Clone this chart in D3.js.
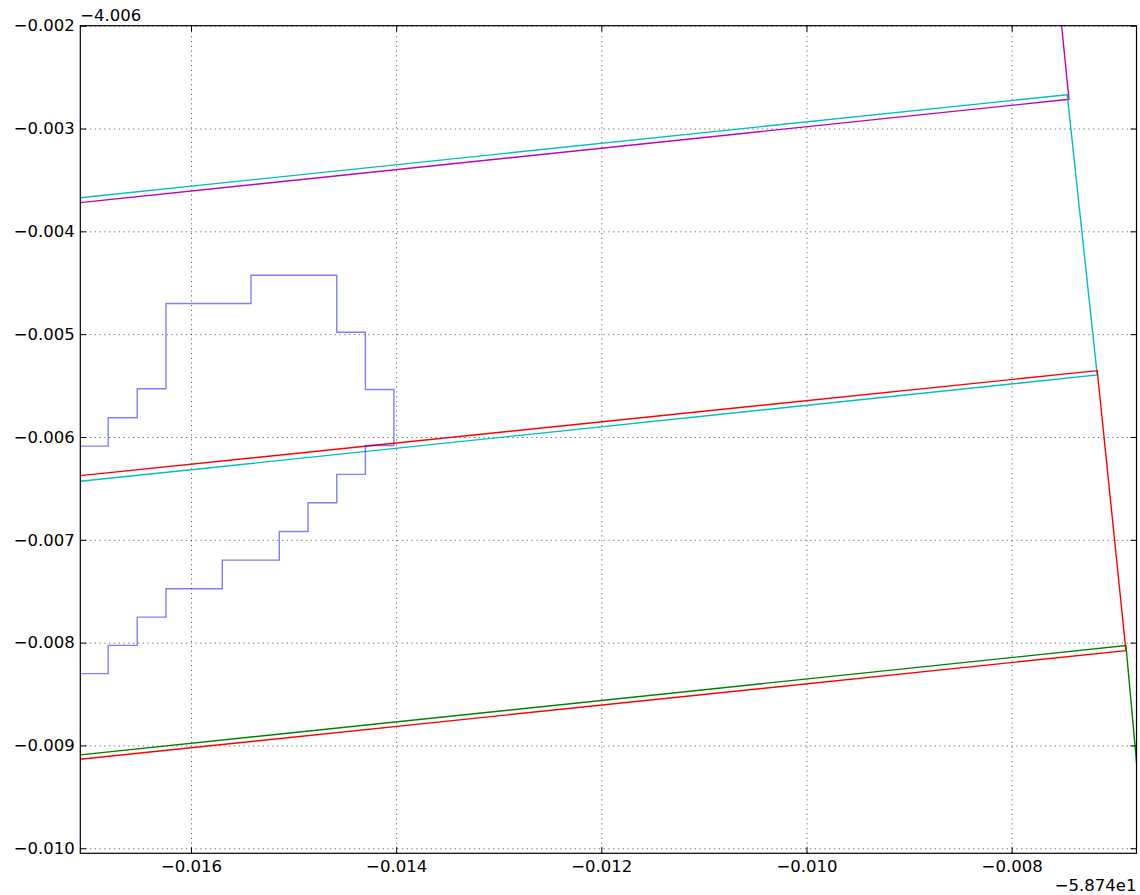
<!DOCTYPE html>
<html>
<head>
<meta charset="utf-8">
<script src="https://cdn.jsdelivr.net/npm/d3@7"></script>
<style>
body { margin: 0; background: #fff; }
svg { font-family: "DejaVu Sans", sans-serif; }
.grid line { stroke: #000; stroke-width: 0.8; stroke-dasharray: 1.2,3.6; opacity: 0.75; }
.grid path { display: none; }
.ticks path { display: none; }
.ticks line { stroke: #000; stroke-width: 1; }
.ticks text { font-family: "DejaVu Sans", sans-serif; font-size: 16.5px; fill: #000; }
</style>
</head>
<body>
<div id="chart"></div>
<script>
// tick values (offsets are shown separately, matplotlib style)
const xTicks = [-0.016, -0.014, -0.012, -0.010, -0.008];
const yTicks = [-0.002, -0.003, -0.004, -0.005, -0.006, -0.007, -0.008, -0.009, -0.010];
const xOffsetLabel = "\u22125.874e1";
const yOffsetLabel = "\u22124.006";

const xDomain = [-0.017079, -0.006783];
const yDomain = [-0.010049, -0.002];

// tile outlines, [x, y] corners
const magentaEdge = [[-0.007538, -0.00175], [-0.007441, -0.002716], [-0.017079, -0.003721]];
const cyanEdge = [[-0.017079, -0.003673], [-0.007458, -0.002671], [-0.007166, -0.005397], [-0.017079, -0.006431]];
const redEdge = [[-0.017079, -0.006376], [-0.007166, -0.005355], [-0.006886, -0.008078], [-0.017079, -0.009134]];
const greenEdge = [[-0.017079, -0.009092], [-0.006886, -0.008029], [-0.006681, -0.010279]];

// blue step outlines (steps after each x)
const stepUpperX = [-0.0172, -0.016807, -0.016524, -0.016244, -0.015415, -0.014579, -0.014300, -0.014022];
const stepUpperY = [-0.006089, -0.005813, -0.005531, -0.004702, -0.004427, -0.004981, -0.005538, -0.006083];
const stepLowerX = [-0.0172, -0.016807, -0.016524, -0.016244, -0.015695, -0.015139, -0.014859, -0.014579, -0.014300, -0.014022];
const stepLowerY = [-0.008302, -0.008027, -0.007752, -0.007476, -0.007198, -0.006919, -0.006640, -0.006364, -0.006083, -0.006083];

const margins = {left: 80.3, top: 25.7, right: 3.5, bottom: 41.7};
const dims = {width: 1140 - margins.left - margins.right, height: 895 - margins.top - margins.bottom};

const fmt = d => d3.format(".3f")(d).replace("-", "\u2212");

let svg = d3.select("#chart")
    .append("svg")
    .attr("width", 1140)
    .attr("height", 895);

let g = svg.append("g")
    .attr("transform", `translate(${margins.left},${margins.top})`);

let xScale = d3.scaleLinear().domain(xDomain).range([0, dims.width]);
let yScale = d3.scaleLinear().domain(yDomain).range([dims.height, 0]);

svg.append("defs").append("clipPath")
    .attr("id", "plotclip")
    .append("rect")
    .attr("width", dims.width)
    .attr("height", dims.height);

// grid
g.append("g")
    .attr("class", "grid")
    .attr("transform", `translate(0,${dims.height})`)
    .call(d3.axisBottom(xScale).tickValues(xTicks).tickSize(-dims.height).tickFormat(""));
g.append("g")
    .attr("class", "grid")
    .call(d3.axisLeft(yScale).tickValues(yTicks).tickSize(-dims.width).tickFormat(""));

// lines
let plot = g.append("g").attr("clip-path", "url(#plotclip)");

let line = d3.line()
    .x(d => xScale(d[0]))
    .y(d => yScale(d[1]));

let stepLine = d3.line()
    .x(d => xScale(d[0]))
    .y(d => yScale(d[1]))
    .curve(d3.curveStepAfter);

const series = [
    {pts: magentaEdge, color: "#bf00bf"},
    {pts: cyanEdge, color: "#00bfbf"},
    {pts: redEdge, color: "#ff0000"},
    {pts: greenEdge, color: "#008000"}
];

plot.selectAll("path.edge")
    .data(series)
    .enter()
    .append("path")
    .attr("class", "edge")
    .attr("d", d => line(d.pts))
    .attr("fill", "none")
    .attr("stroke", d => d.color)
    .attr("stroke-width", 1.4);

const steps = [
    stepUpperX.map((x, i) => [x, stepUpperY[i]]),
    stepLowerX.map((x, i) => [x, stepLowerY[i]])
];

plot.selectAll("path.step")
    .data(steps)
    .enter()
    .append("path")
    .attr("class", "step")
    .attr("d", d => stepLine(d))
    .attr("fill", "none")
    .attr("stroke", "#0000ff")
    .attr("stroke-opacity", 0.5)
    .attr("stroke-width", 1.4);

// ticks, pointing inward on all four sides
g.append("g")
    .attr("class", "ticks")
    .attr("transform", `translate(0,${dims.height})`)
    .call(d3.axisBottom(xScale).tickValues(xTicks).tickSizeInner(-6).tickSizeOuter(0).tickPadding(7).tickFormat(fmt));
g.append("g")
    .attr("class", "ticks")
    .call(d3.axisTop(xScale).tickValues(xTicks).tickSizeInner(-6).tickSizeOuter(0).tickFormat(""));
g.append("g")
    .attr("class", "ticks")
    .call(d3.axisLeft(yScale).tickValues(yTicks).tickSizeInner(-6).tickSizeOuter(0).tickPadding(5.5).tickFormat(fmt));
g.append("g")
    .attr("class", "ticks")
    .attr("transform", `translate(${dims.width},0)`)
    .call(d3.axisRight(yScale).tickValues(yTicks).tickSizeInner(-6).tickSizeOuter(0).tickFormat(""));

// frame
g.append("rect")
    .attr("width", dims.width)
    .attr("height", dims.height)
    .attr("fill", "none")
    .attr("stroke", "#000")
    .attr("stroke-width", 1.2);

// offset labels
svg.append("text")
    .attr("x", margins.left)
    .attr("y", 21)
    .attr("font-size", 16.5)
    .text(yOffsetLabel);
svg.append("text")
    .attr("x", margins.left + dims.width)
    .attr("y", 891)
    .attr("text-anchor", "end")
    .attr("font-size", 16.5)
    .text(xOffsetLabel);
</script>
</body>
</html>
